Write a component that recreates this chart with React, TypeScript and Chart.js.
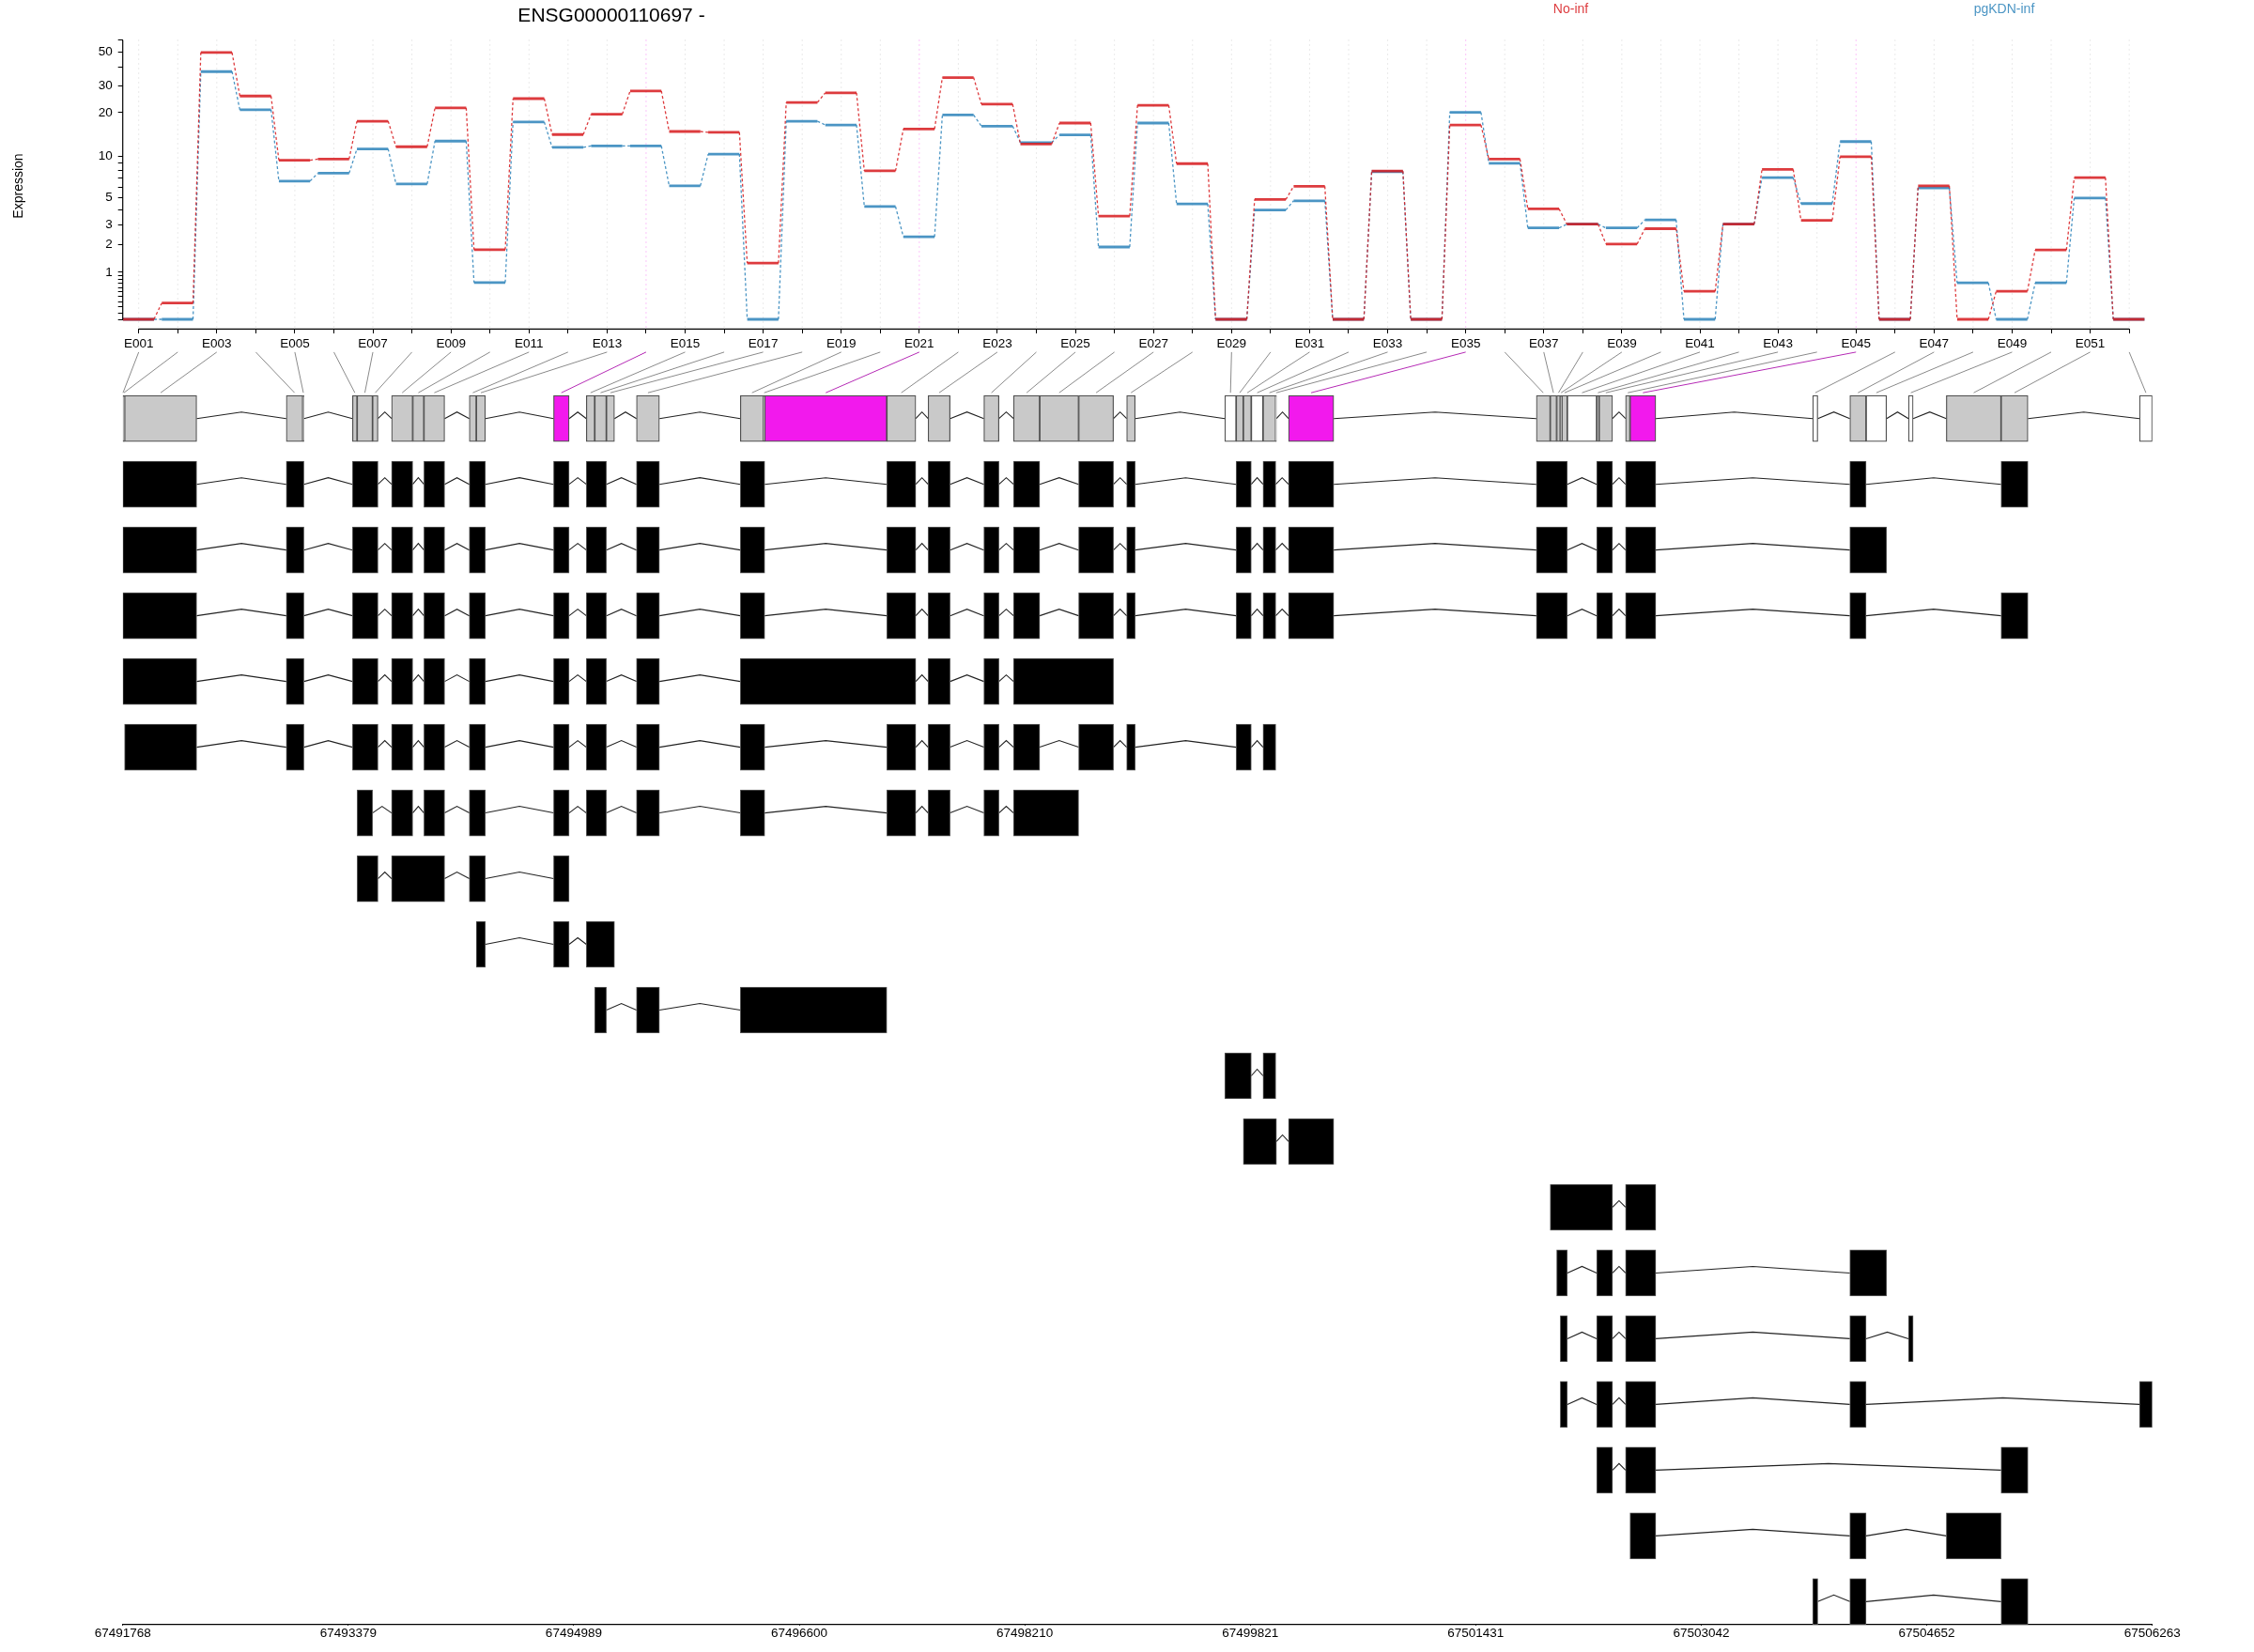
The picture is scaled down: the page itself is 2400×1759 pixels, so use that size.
import React, { useEffect, useRef } from "react";
import { Chart, registerables } from "chart.js";

Chart.register(...registerables);

// ---------------- data ----------------
const GENE_TITLE = "ENSG00000110697 -";
const CONDITIONS = ["No-inf", "pgKDN-inf"];

const EXON_IDS = [
  "E001", "E002", "E003", "E004", "E005", "E006", "E007", "E008", "E009", "E010",
  "E011", "E012", "E013", "E014", "E015", "E016", "E017", "E018", "E019", "E020",
  "E021", "E022", "E023", "E024", "E025", "E026", "E027", "E028", "E029", "E030",
  "E031", "E032", "E033", "E034", "E035", "E036", "E037", "E038", "E039", "E040",
  "E041", "E042", "E043", "E044", "E045", "E046", "E047", "E048", "E049", "E050",
  "E051", "E052",
];

const EXPR_NO_INF = [
  0, 0.27, 49.9, 25.8, 9.4, 9.6, 17.5, 11.7, 21.5, 1.79,
  24.8, 14.2, 19.5, 27.9, 14.9, 14.7, 1.29, 23.4, 27.1, 7.9,
  15.5, 34.2, 22.8, 12.2, 17.0, 3.57, 22.4, 8.9, 0, 4.84,
  6.09, 0, 7.88, 0, 16.5, 9.6, 4.09, 3.06, 2.03, 2.8,
  0.51, 3.06, 8.1, 3.3, 9.97, 0, 6.15, 0, 0.51, 1.78,
  7.06, 0,
];

const EXPR_PGKDN_INF = [
  0, 0, 37.4, 20.9, 6.66, 7.6, 11.3, 6.35, 12.8, 0.72,
  17.3, 11.6, 11.85, 11.85, 6.15, 10.4, 0, 17.5, 16.5, 4.27,
  2.37, 19.3, 16.2, 12.5, 14.1, 1.9, 17.0, 4.47, 0, 4.0,
  4.73, 0, 7.8, 0, 20.1, 8.96, 2.84, 3.06, 2.84, 3.33,
  0, 3.06, 7.06, 4.5, 12.7, 0, 5.92, 0.71, 0, 0.71,
  4.97, 0,
];

const EXON_START = [
  67491768, 67491772, 67491781, 67492936, 67493054, 67493409, 67493442, 67493552, 67493688, 67493839,
  67493919, 67494243, 67494293, 67494845, 67495079, 67495139, 67495222, 67495437, 67496179, 67496345,
  67496353, 67497225, 67497520, 67497918, 67498130, 67498317, 67498595, 67498938, 67499639, 67499720,
  67499771, 67499828, 67499912, 67500003, 67500094, 67501864, 67501963, 67502009, 67502035, 67502046,
  67502085, 67502295, 67502312, 67502501, 67502533, 67503838, 67504103, 67504219, 67504522, 67504792,
  67505183, 67506172,
];

const EXON_END = [
  67491772, 67491781, 67492296, 67493054, 67493062, 67493442, 67493552, 67493591, 67493839, 67493919,
  67494067, 67494293, 67494358, 67494956, 67495139, 67495222, 67495280, 67495601, 67496345, 67496353,
  67497225, 67497432, 67497677, 67498026, 67498317, 67498595, 67498844, 67498999, 67499720, 67499771,
  67499828, 67499912, 67500003, 67500008, 67500417, 67501963, 67502009, 67502035, 67502046, 67502085,
  67502295, 67502312, 67502408, 67502533, 67502717, 67503874, 67504219, 67504365, 67504555, 67505183,
  67505375, 67506263,
];

// T = tested, S = significant, U = not tested
const EXON_STATUS = [
  "U", "U", "T", "T", "T", "T", "T", "T", "T", "T",
  "T", "T", "T", "S", "T", "T", "T", "T", "T", "T",
  "S", "T", "T", "T", "T", "T", "T", "T", "U", "T",
  "T", "U", "T", "U", "S", "T", "T", "T", "T", "T",
  "U", "T", "T", "T", "S", "U", "T", "U", "U", "T",
  "T", "U",
];

// transcripts: exons given as [first exon bin, last exon bin] (1-based)
const TRANSCRIPTS = [
  [[1, 3], [4, 5], [6, 8], [9, 9], [11, 11], [12, 13], [14, 14], [15, 16], [18, 18], [19, 20], [22, 22], [23, 23], [24, 24], [25, 25], [27, 27], [28, 28], [30, 31], [33, 33], [35, 35], [36, 40], [42, 43], [44, 45], [47, 47], [51, 51]],
  [[1, 3], [4, 5], [6, 8], [9, 9], [11, 11], [12, 13], [14, 14], [15, 16], [18, 18], [19, 20], [22, 22], [23, 23], [24, 24], [25, 25], [27, 27], [28, 28], [30, 31], [33, 33], [35, 35], [36, 40], [42, 43], [44, 45], [47, 48]],
  [[1, 3], [4, 5], [6, 8], [9, 9], [11, 11], [12, 13], [14, 14], [15, 16], [18, 18], [19, 20], [22, 22], [23, 23], [24, 24], [25, 25], [27, 27], [28, 28], [30, 31], [33, 33], [35, 35], [36, 40], [42, 43], [44, 45], [47, 47], [51, 51]],
  [[1, 3], [4, 5], [6, 8], [9, 9], [11, 11], [12, 13], [14, 14], [15, 16], [18, 18], [19, 22], [23, 23], [24, 24], [25, 27]],
  [[3, 3], [4, 5], [6, 8], [9, 9], [11, 11], [12, 13], [14, 14], [15, 16], [18, 18], [19, 20], [22, 22], [23, 23], [24, 24], [25, 25], [27, 27], [28, 28], [30, 31], [33, 33]],
  [[7, 7], [9, 9], [11, 11], [12, 13], [14, 14], [15, 16], [18, 18], [19, 20], [22, 22], [23, 23], [24, 24], [25, 26]],
  [[7, 8], [9, 11], [12, 13], [14, 14]],
  [[13, 13], [14, 14], [15, 17]],
  [[16, 16], [18, 18], [19, 21]],
  [[29, 31], [33, 33]],
  [[31, 34], [35, 35]],
  [[37, 43], [44, 45]],
  [[38, 40], [42, 43], [44, 45], [47, 48]],
  [[39, 40], [42, 43], [44, 45], [47, 47], [49, 49]],
  [[39, 40], [42, 43], [44, 45], [47, 47], [52, 52]],
  [[42, 43], [44, 45], [51, 51]],
  [[45, 45], [47, 47], [50, 50]],
  [[46, 46], [47, 47], [51, 51]],
];

const Y_TICK_VALUES = [0, 0.1, 0.2, 0.3, 0.4, 0.5, 0.6, 0.7, 0.8, 0.9, 1, 2, 3, 4, 5, 6, 7, 8, 9, 10, 20, 30, 40, 50, 60];
const Y_TICK_LABELED = [1, 2, 3, 5, 10, 20, 30, 50];
const GENOMIC_TICKS = [67491768, 67493379, 67494989, 67496600, 67498210, 67499821, 67501431, 67503042, 67504652, 67506263];

// ---------------- styles / layout ----------------
const FONT = "'Liberation Sans', Arial, Helvetica, sans-serif";
const COLORS = ["rgba(215,25,28,0.85)", "rgba(43,131,186,0.85)"];
const STATUS_FILL: Record<string, string> = { T: "#C9C9C9", S: "#F219ED", U: "#FFFFFF" };
const MID = 0.409; // exon-label tick offset within each slot
const STEP = 0.8; // horizontal part of each slot
const BOX_PX = 49;
const PEAK = 0.1; // intron apex height (rows)
const XE_AXIS_AT = -0.0625; // value on yE scale where the exon axis sits

const toLog = (v: number) => Math.log10(v + 1);

function buildSteps(vals: number[]) {
  const solid: any[] = [];
  const dotted: any[] = [];
  vals.forEach((v, i) => {
    solid.push({ x: i, y: toLog(v) }, { x: i + STEP, y: toLog(v) }, { x: i + 0.9, y: null });
    if (i < vals.length - 1) {
      dotted.push({ x: i + STEP, y: toLog(v) }, { x: i + 1, y: toLog(vals[i + 1]) }, { x: i + 1, y: null });
    }
  });
  return { solid, dotted };
}

function buildIntrons(blocks: number[][][]) {
  const pts: any[] = [];
  blocks.forEach((row, r) => {
    for (let j = 0; j < row.length - 1; j++) {
      const e = row[j][1];
      const s = row[j + 1][0];
      if (s > e) {
        pts.push({ x: e, y: r }, { x: (e + s) / 2, y: r - PEAK }, { x: s, y: r }, { x: s, y: null });
      }
    }
  });
  return pts;
}

// ---------------- plugin for decorations ----------------
const decorPlugin = {
  id: "dexseqDecor",
  beforeDatasetsDraw(chart: any) {
    const { ctx, chartArea, scales } = chart;
    const xE = scales.xE;
    const yE = scales.yE;
    const axisY = yE.getPixelForValue(XE_AXIS_AT);
    ctx.save();
    ctx.lineWidth = 1;
    ctx.setLineDash([2, 3]);
    EXON_IDS.forEach((_, i) => {
      const x = xE.getPixelForValue(i + MID);
      ctx.strokeStyle = EXON_STATUS[i] === "S" ? "rgba(242,25,237,0.25)" : "rgba(185,185,185,0.3)";
      ctx.beginPath();
      ctx.moveTo(x, chartArea.top);
      ctx.lineTo(x, axisY);
      ctx.stroke();
    });
    ctx.restore();
  },
  afterDraw(chart: any) {
    const { ctx, scales } = chart;
    const xE = scales.xE;
    const yE = scales.yE;
    const xG = scales.xG;
    const yT = scales.yT;
    const axisY = yE.getPixelForValue(XE_AXIS_AT);
    ctx.save();
    // y axis line (first to last tick)
    ctx.strokeStyle = "#000";
    ctx.lineWidth = 1.2;
    const yx = yE.right;
    ctx.beginPath();
    ctx.moveTo(yx, yE.getPixelForValue(toLog(Y_TICK_VALUES[0])));
    ctx.lineTo(yx, yE.getPixelForValue(toLog(Y_TICK_VALUES[Y_TICK_VALUES.length - 1])));
    ctx.stroke();
    // exon axis line
    ctx.beginPath();
    ctx.moveTo(xE.getPixelForValue(MID), axisY);
    ctx.lineTo(xE.getPixelForValue(EXON_IDS.length - 1 + MID), axisY);
    ctx.stroke();
    // connectors exon label -> exon bin
    const y1 = axisY + 24.5;
    const y2 = yT.getPixelForValue(0) - BOX_PX / 2 - 3;
    EXON_IDS.forEach((_, i) => {
      ctx.strokeStyle = EXON_STATUS[i] === "S" ? "#B52AB5" : "#8A8A8A";
      ctx.lineWidth = 1;
      ctx.beginPath();
      ctx.moveTo(xE.getPixelForValue(i + MID), y1);
      ctx.lineTo(xG.getPixelForValue((EXON_START[i] + EXON_END[i]) / 2), y2);
      ctx.stroke();
    });
    // title & legend
    ctx.fillStyle = "#000";
    ctx.textAlign = "center";
    ctx.textBaseline = "alphabetic";
    ctx.font = `21px ${FONT}`;
    ctx.fillText(GENE_TITLE, 651, 22.7);
    ctx.font = `14px ${FONT}`;
    ctx.fillStyle = COLORS[0];
    ctx.fillText(CONDITIONS[0], 1672.5, 14);
    ctx.fillStyle = COLORS[1];
    ctx.fillText(CONDITIONS[1], 2134, 14);
    // y title
    ctx.fillStyle = "#000";
    ctx.translate(20.4, 198);
    ctx.rotate(-Math.PI / 2);
    ctx.textBaseline = "middle";
    ctx.fillText("Expression", 0, 0);
    ctx.restore();
  },
};

export default function App() {
  const ref = useRef<HTMLCanvasElement>(null);

  useEffect(() => {
    if (!ref.current) return;
    const red = buildSteps(EXPR_NO_INF);
    const blue = buildSteps(EXPR_PGKDN_INF);

    const geneBars = EXON_IDS.map((_, i) => ({ x: [EXON_START[i], EXON_END[i]], y: 0 }));
    const geneFill = EXON_STATUS.map((s) => STATUS_FILL[s]);

    const trBars: any[] = [];
    TRANSCRIPTS.forEach((tr, k) => {
      tr.forEach(([a, b]) => trBars.push({ x: [EXON_START[a - 1], EXON_END[b - 1]], y: k + 1 }));
    });

    // gene model blocks (merge contiguous bins)
    const geneBlocks: number[][] = [];
    EXON_IDS.forEach((_, i) => {
      const last = geneBlocks[geneBlocks.length - 1];
      if (last && EXON_START[i] <= last[1]) last[1] = EXON_END[i];
      else geneBlocks.push([EXON_START[i], EXON_END[i]]);
    });
    const rowBlocks: number[][][] = [geneBlocks];
    TRANSCRIPTS.forEach((tr) => rowBlocks.push(tr.map(([a, b]) => [EXON_START[a - 1], EXON_END[b - 1]])));
    const introns = buildIntrons(rowBlocks);

    const lineBase = { type: "line", pointRadius: 0, pointHoverRadius: 0, tension: 0, fill: false, spanGaps: false };

    const chart = new Chart(ref.current, {
      type: "line",
      data: {
        datasets: [
          { ...lineBase, label: CONDITIONS[0], data: red.solid, xAxisID: "xE", yAxisID: "yE", borderColor: COLORS[0], borderWidth: 2.8, borderCapStyle: "butt", order: 0 },
          { ...lineBase, label: CONDITIONS[0] + " link", data: red.dotted, xAxisID: "xE", yAxisID: "yE", borderColor: COLORS[0], borderWidth: 1.3, borderDash: [3, 2.5], order: 1 },
          { ...lineBase, label: CONDITIONS[1], data: blue.solid, xAxisID: "xE", yAxisID: "yE", borderColor: COLORS[1], borderWidth: 2.8, borderCapStyle: "butt", order: 2 },
          { ...lineBase, label: CONDITIONS[1] + " link", data: blue.dotted, xAxisID: "xE", yAxisID: "yE", borderColor: COLORS[1], borderWidth: 1.3, borderDash: [3, 2.5], order: 3 },
          { ...lineBase, label: "introns", data: introns, xAxisID: "xG", yAxisID: "yT", borderColor: "#222", borderWidth: 1.1, order: 6 },
          {
            type: "bar", label: "gene model", indexAxis: "y", data: geneBars, xAxisID: "xG", yAxisID: "yT",
            backgroundColor: geneFill, borderColor: "#505050", borderWidth: 1.2, borderSkipped: false,
            barThickness: BOX_PX, grouped: false, order: 4,
          },
          {
            type: "bar", label: "transcripts", indexAxis: "y", data: trBars, xAxisID: "xG", yAxisID: "yT",
            backgroundColor: "#000", borderColor: "#555", borderWidth: 1, borderSkipped: false,
            barThickness: BOX_PX, grouped: false, order: 5,
          },
        ] as any,
      },
      options: {
        responsive: false,
        animation: false,
        devicePixelRatio: 1,
        events: [],
        layout: { padding: { left: 30.7, right: 108.3, top: 42, bottom: 8 } },
        plugins: { legend: { display: false }, tooltip: { enabled: false }, title: { display: false } },
        scales: {
          xE: {
            type: "linear", axis: "x", min: 0, max: EXON_IDS.length,
            position: { yE: XE_AXIS_AT } as any,
            afterBuildTicks: (s: any) => { s.ticks = EXON_IDS.map((_, i) => ({ value: i + MID })); },
            ticks: {
              autoSkip: false, maxRotation: 0, minRotation: 0, padding: 3, color: "#000",
              font: { family: FONT, size: 13.5 },
              callback: (_v: any, idx: number) => (idx % 2 === 0 ? EXON_IDS[idx] : ""),
            },
            grid: { display: true, drawOnChartArea: false, drawTicks: true, tickLength: 5, color: "#000", lineWidth: 1 },
            border: { display: false },
          },
          xG: {
            type: "linear", axis: "x", position: "bottom",
            min: GENOMIC_TICKS[0], max: GENOMIC_TICKS[GENOMIC_TICKS.length - 1],
            afterBuildTicks: (s: any) => { s.ticks = GENOMIC_TICKS.map((v) => ({ value: v })); },
            afterFit: (s: any) => { s.height = 21; },
            ticks: {
              autoSkip: false, maxRotation: 0, minRotation: 0, padding: 0, color: "#000",
              font: { family: FONT, size: 13.5 },
              callback: (v: any) => String(v),
            },
            grid: { display: true, drawOnChartArea: false, drawTicks: true, tickLength: 1, color: "#000", lineWidth: 1 },
            border: { display: true, color: "#000", width: 1.2 },
          },
          yE: {
            type: "linear", axis: "y", position: "left", min: -8.3493, max: 1.79,
            afterBuildTicks: (s: any) => { s.ticks = Y_TICK_VALUES.map((v) => ({ value: toLog(v) })); },
            afterFit: (s: any) => { s.width = 100; },
            ticks: {
              autoSkip: false, padding: 6, color: "#000",
              font: { family: FONT, size: 13.5 },
              callback: (_v: any, idx: number) => (Y_TICK_LABELED.includes(Y_TICK_VALUES[idx]) ? String(Y_TICK_VALUES[idx]) : ""),
            },
            grid: { display: true, drawOnChartArea: false, drawTicks: true, tickLength: 5, color: "#000", lineWidth: 1 },
            border: { display: false },
          },
          yT: {
            type: "linear", axis: "y", position: "left", reverse: true, offset: false,
            min: -5.7688, max: 18.3524, display: false,
          },
        } as any,
      },
      plugins: [decorPlugin],
    } as any);
    return () => chart.destroy();
  }, []);

  return (
    <div style={{ position: "fixed", left: 0, top: 0, width: 2400, height: 1759, background: "#fff" }}>
      <canvas ref={ref} width={2400} height={1759} style={{ display: "block", width: 2400, height: 1759 }} />
    </div>
  );
}
